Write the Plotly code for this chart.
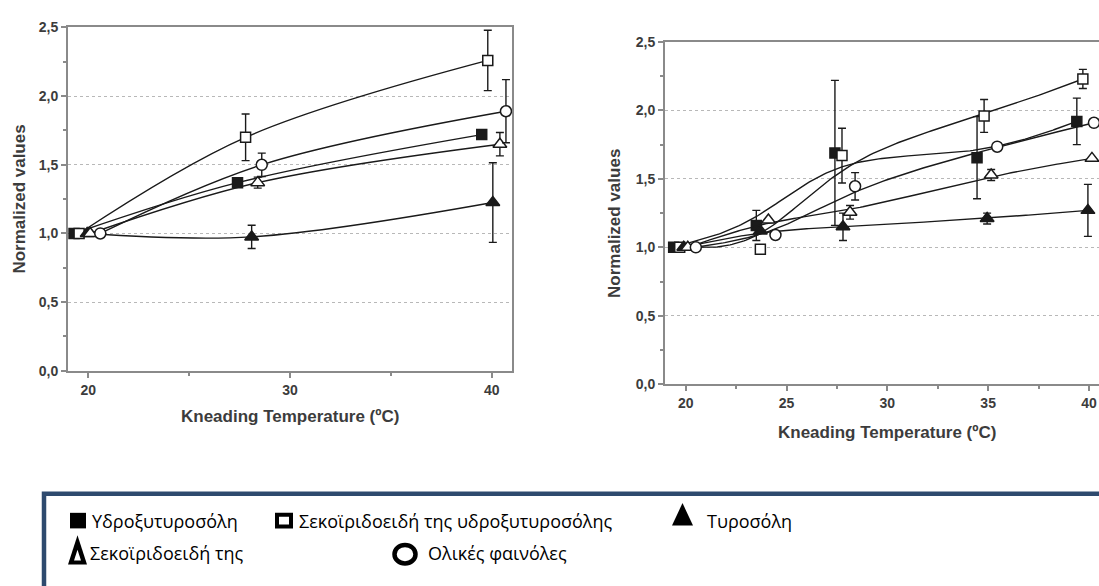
import numpy as np
import plotly.graph_objects as go

W, H = 1099, 586

# ---------------- data ----------------
# Panel A (left)
xA_hty = [19.3, 27.4, 39.5]
yA_hty = [1.00, 1.37, 1.72]
eA_hty = [None, None, None]

xA_shty = [19.55, 27.8, 39.8]
yA_shty = [1.00, 1.70, 2.26]
eA_shty = [None, 0.17, 0.22]

xA_ty = [19.95, 28.1, 40.05]
yA_ty = [1.00, 0.975, 1.225]
eA_ty = [None, 0.085, 0.29]

xA_sty = [20.1, 28.4, 40.4]
yA_sty = [1.00, 1.37, 1.65]
eA_sty = [None, 0.04, 0.085]

xA_tp = [20.6, 28.6, 40.7]
yA_tp = [1.00, 1.50, 1.89]
eA_tp = [None, 0.085, 0.23]

# Panel B (right)
xB_hty = [19.4, 23.5, 27.4, 34.45, 39.4]
yB_hty = [1.00, 1.16, 1.69, 1.655, 1.92]
eB_hty = [None, 0.11, 0.53, 0.30, 0.17]

xB_shty = [19.7, 23.7, 27.75, 34.8, 39.7]
yB_shty = [1.00, 0.985, 1.67, 1.96, 2.23]
eB_shty = [None, None, 0.20, 0.12, 0.07]

xB_ty = [19.9, 23.7, 27.8, 34.95, 39.95]
yB_ty = [1.00, 1.12, 1.15, 1.21, 1.27]
eB_ty = [None, None, 0.10, 0.04, 0.19]

xB_sty = [20.1, 24.1, 28.15, 35.15, 40.15]
yB_sty = [1.00, 1.20, 1.256, 1.528, 1.65]
eB_sty = [None, None, 0.05, 0.04, None]

xB_tp = [20.5, 24.45, 28.4, 35.45, 40.25]
yB_tp = [1.00, 1.09, 1.446, 1.735, 1.91]
eB_tp = [None, None, 0.10, None, None]

y_ticks = [0.0, 0.5, 1.0, 1.5, 2.0, 2.5]
xA_ticks = [20, 30, 40]
xB_ticks = [20, 25, 30, 35, 40]

legend_labels = ["Υδροξυτυροσόλη", "Σεκοϊριδοειδή της υδροξυτυροσόλης",
                 "Τυροσόλη", "Σεκοϊριδοειδή της", "Ολικές φαινόλες"]

x_title = "Kneading Temperature (ºC)"
y_title = "Normalized values"

# ---------------- styling ----------------
INK = "#1a1a1a"
AXC = "#8a8a8a"
TXT = "#3c3c3c"
AX_FONT = "Liberation Sans, Arial, sans-serif"

styles = {
    "hty":  dict(symbol="square", color=INK, size=10),
    "shty": dict(symbol="square", color="white", size=10),
    "ty":   dict(symbol="triangle-up", color=INK, size=12),
    "sty":  dict(symbol="triangle-up", color="white", size=12),
    "tp":   dict(symbol="circle", color="white", size=11),
}


def px(x):
    return x / W


def py(y):
    return 1 - y / H


def bspline(xs, ys, n=40):
    """Uniform cubic B-spline using the points as control polygon
    (end points repeated so the curve starts and ends on them)."""
    P = np.column_stack([xs, ys]).astype(float)
    P = np.vstack([P[0], P[0], P, P[-1], P[-1]])
    M = np.array([[-1, 3, -3, 1],
                  [3, -6, 3, 0],
                  [-3, 0, 3, 0],
                  [1, 4, 1, 0]]) / 6.0
    t = np.linspace(0, 1, n)
    T = np.column_stack([t ** 3, t ** 2, t, np.ones_like(t)])
    segs = [T @ M @ P[i:i + 4] for i in range(len(P) - 3)]
    curve = np.vstack(segs)
    return curve[:, 0], curve[:, 1]


fig = go.Figure()


def add_series(x, y, err, key, xa, ya, smooth):
    st = styles[key]
    if smooth == "bspline":
        cx, cy = bspline(x, y)
        fig.add_trace(go.Scatter(
            x=cx, y=cy, xaxis=xa, yaxis=ya, mode="lines",
            line=dict(color=INK, width=1.4),
            showlegend=False, hoverinfo="skip"))
    else:
        fig.add_trace(go.Scatter(
            x=x, y=y, xaxis=xa, yaxis=ya, mode="lines",
            line=dict(color=INK, width=1.4, shape="spline", smoothing=1.0),
            showlegend=False, hoverinfo="skip"))
    fig.add_trace(go.Scatter(
        x=x, y=y, xaxis=xa, yaxis=ya, mode="markers",
        marker=dict(symbol=st["symbol"], size=st["size"], color=st["color"],
                    line=dict(color=INK, width=1.5)),
        error_y=dict(type="data", array=err, symmetric=True, color=INK,
                     thickness=1.4, width=4),
        showlegend=False, hoverinfo="skip",
    ))


add_series(xA_hty, yA_hty, eA_hty, "hty", "x", "y", "spline")
add_series(xA_shty, yA_shty, eA_shty, "shty", "x", "y", "spline")
add_series(xA_ty, yA_ty, eA_ty, "ty", "x", "y", "spline")
add_series(xA_sty, yA_sty, eA_sty, "sty", "x", "y", "spline")
add_series(xA_tp, yA_tp, eA_tp, "tp", "x", "y", "spline")

add_series(xB_hty, yB_hty, eB_hty, "hty", "x2", "y2", "bspline")
add_series(xB_shty, yB_shty, eB_shty, "shty", "x2", "y2", "bspline")
add_series(xB_ty, yB_ty, eB_ty, "ty", "x2", "y2", "bspline")
add_series(xB_sty, yB_sty, eB_sty, "sty", "x2", "y2", "bspline")
add_series(xB_tp, yB_tp, eB_tp, "tp", "x2", "y2", "bspline")

tickfont = dict(family=AX_FONT, size=14, color=TXT, weight="bold")


def xaxis_cfg(domain, rng, ticks, minor_step, mirror, anchor):
    return dict(
        domain=domain, range=rng, tickvals=ticks, showgrid=False, zeroline=False,
        anchor=anchor,
        showline=True, linecolor=AXC, linewidth=2, mirror=mirror,
        ticks="outside", ticklen=5, tickwidth=1.5, tickcolor=AXC,
        minor=dict(dtick=minor_step, ticks="outside", ticklen=3, tickwidth=1.5,
                   tickcolor=AXC, showgrid=False),
        tickfont=tickfont, fixedrange=True,
    )


def yaxis_cfg(domain, anchor, mirror):
    return dict(
        domain=domain, range=[0, 2.5], tickvals=y_ticks, tickformat=".1f",
        anchor=anchor, showgrid=True, gridcolor="#b8b8b8", griddash="dot",
        gridwidth=1.2, zeroline=False, showline=True, linecolor=AXC, linewidth=2,
        mirror=mirror, ticks="outside", ticklen=5, tickwidth=1.5, tickcolor=AXC,
        minor=dict(dtick=0.25, ticks="outside", ticklen=3, tickwidth=1.5,
                   tickcolor=AXC, showgrid=False),
        tickfont=tickfont, fixedrange=True,
    )


fig.update_layout(
    width=W, height=H, margin=dict(l=0, r=0, t=0, b=0),
    paper_bgcolor="white", plot_bgcolor="white",
    separators=",.",
    xaxis=xaxis_cfg([px(68), px(512)], [19.0, 41.0], xA_ticks, 5, True, "y"),
    yaxis=yaxis_cfg([py(373), py(20)], "x", True),
    xaxis2=xaxis_cfg([px(665), 1.0], [18.97, 40.5], xB_ticks, 2.5, True, "y2"),
    yaxis2=yaxis_cfg([py(386.7), py(35)], "x2", False),
)

title_font = dict(family=AX_FONT, size=17, color=TXT, weight="bold")
centered = dict(xanchor="center", yanchor="middle", showarrow=False, font=title_font)
ann = [
    dict(text=y_title, x=px(20), y=py(197), xref="paper", yref="paper",
         textangle=-90, **centered),
    dict(text=y_title, x=px(615), y=py(222), xref="paper", yref="paper",
         textangle=-90, **centered),
    dict(text=x_title, x=30, y=py(420), xref="x", yref="paper", **centered),
    dict(text=x_title, x=30, y=py(436), xref="x2", yref="paper", **centered),
]

# legend panel
LEG_FONT = dict(family="Open Sans, Noto Sans, sans-serif", size=18, color="black")
leg_text_pos = [(90, 527), (297, 527), (705, 527), (88, 560), (426, 560)]
for label, (lx, ly) in zip(legend_labels, leg_text_pos):
    ann.append(dict(text=label, x=px(lx), y=py(ly), xref="paper", yref="paper",
                    xanchor="left", yanchor="middle", showarrow=False,
                    font=LEG_FONT))
fig.update_layout(annotations=ann)


def rect(x0, y0, x1, y1, **kw):
    return dict(type="rect", xref="paper", yref="paper",
                x0=px(x0), x1=px(x1), y0=py(y0), y1=py(y1), **kw)


def path(pts, **kw):
    d = "M " + " L ".join(f"{px(a)},{py(b)}" for a, b in pts) + " Z"
    return dict(type="path", xref="paper", yref="paper", path=d, **kw)


shapes = [
    # frame of the legend panel
    rect(44, 499.5, 1120, 640, line=dict(color="#2e4a6e", width=4.5),
         fillcolor="rgba(0,0,0,0)"),
    # filled square
    rect(70, 519, 86, 535, line=dict(width=0), fillcolor="black"),
    # open square
    rect(277, 521, 291, 533, line=dict(color="black", width=4), fillcolor="white"),
    # filled triangle
    path([(672, 532), (682.5, 509), (693, 532)], line=dict(width=0), fillcolor="black"),
    # open (bold) triangle
    path([(68, 572), (77.5, 542), (87, 572)], line=dict(width=0), fillcolor="black"),
    path([(74, 568), (77.5, 557), (81, 568)], line=dict(width=0), fillcolor="white"),
    # open circle
    dict(type="circle", xref="paper", yref="paper", x0=px(394.5), x1=px(415.5),
         y0=py(552), y1=py(571), line=dict(color="black", width=4.5),
         fillcolor="white"),
]
fig.update_layout(shapes=shapes)

fig.write_html("out.html")
